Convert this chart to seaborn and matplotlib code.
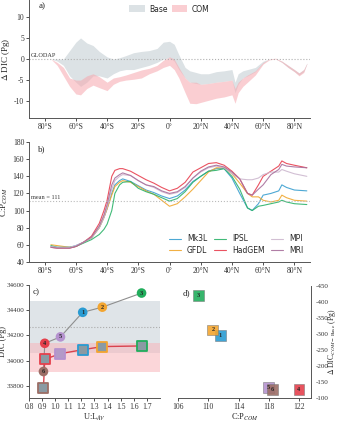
import matplotlib
matplotlib.use('Agg')
import matplotlib.pyplot as plt
import seaborn as sns
import numpy as np
import pandas as pd

# ---- panel a: DIC anomaly envelopes (Pg)
lat_a = [-76, -72, -68, -64, -60, -57, -53, -49, -45, -40, -36, -32, -28, -23, -18,
         -13, -8, -4, 0, 3, 6, 10, 13, 17, 20, 25, 30, 35, 40, 42, 44, 47, 50, 55,
         60, 64, 68, 72, 76, 80, 83, 86, 88]
base_hi = [0, 0, 0, 2, 4, 5, 3.8, 3.2, 1.8, 0.5, 0, 0.3, 0.8, 1.5, 1.8,
           2.0, 2.5, 4, 4.2, 3.5, 1, -2, -2.8, -3.2, -3.5, -3.5, -3, -2.8, -2.5, -5.5, -3.5, -2.8, -2.5, -2,
           -0.5, 0, 0, -0.5, -1.5, -2.5, -3.3, -2.5, -1]
base_lo = [0, -0.5, -1.5, -4, -5.5, -6.5, -5.5, -4, -4, -4.5, -3.5, -2.8, -2.5, -2.5, -2,
           -1.5, -0.8, 0, 0.3, -0.5, -2.5, -4.5, -5.5, -5.8, -6, -5.8, -5.5, -5.3, -5, -8, -6, -4.5, -4, -3,
           -1, 0, 0, -0.8, -2, -3, -3.8, -3, -1.2]
com_hi = [0, -0.8, -2, -4.5, -5, -5, -4, -3.5, -4.2, -5.5, -4.5, -4.2, -3.8, -3.2, -2.6,
          -2.2, -1.5, -0.3, 0.5, 0, -2, -4.5, -5.5, -5.5, -6, -5.8, -5.5, -5.3, -5, -7, -5.5, -4.5, -3.8, -2.8,
          -0.8, 0, 0.2, -0.5, -1.5, -2.5, -3.3, -2.5, -1]
com_lo = [0, -1.5, -4, -6.5, -8.3, -8.5, -7, -6.2, -6.8, -7.5, -6, -5.3, -5, -4.8, -4.5,
          -3.5, -2.8, -2, -1.5, -2.5, -4.5, -8, -10.5, -10.6, -10.3, -9.8, -9.3, -9, -8.5, -10.5, -8, -6.5, -5.5, -3.8,
          -1.2, -0.2, 0, -0.8, -2, -3, -4, -3.2, -1.2]

# ---- panel b: C:P of COM per model
lat_b = [-76, -72, -68, -64, -60, -55, -50, -45, -42, -40, -37, -35, -32, -30, -25, -20,
         -15, -10, -5, 0, 5, 10, 15, 20, 25, 30, 35, 40, 45, 50, 53, 57, 60, 65, 70, 72,
         75, 80, 88]
cp_models = {
    'Mk3L':   [58, 57, 57, 57, 59, 63, 68, 80, 92, 102, 120, 130, 135, 137, 134, 129,
               124, 121, 117, 114, 117, 124, 134, 140, 146, 149, 149, 138, 120, 103, 100, 108, 118, 120, 123, 130,
               127, 124, 123],
    'GFDL':   [60, 59, 58, 57, 58, 63, 68, 80, 92, 102, 118, 128, 133, 135, 133, 128,
               123, 119, 112, 105, 108, 116, 125, 135, 145, 150, 150, 143, 132, 120, 116, 116, 112, 110, 112, 118,
               115, 112, 111],
    'IPSL':   [59, 57, 57, 57, 58, 62, 66, 72, 78, 84, 100, 120, 130, 133, 134, 126,
               122, 119, 115, 111, 114, 122, 133, 140, 146, 147, 149, 140, 125, 103, 100, 105, 106, 108, 110, 112,
               110, 108, 107],
    'HadGEM': [57, 56, 56, 56, 58, 63, 70, 85, 100, 112, 140, 147, 149, 149, 146, 141,
               136, 132, 127, 123, 126, 133, 145, 150, 155, 156, 153, 146, 137, 120, 118, 130, 140, 146, 152, 158,
               155, 153, 150],
    'MPI':    [58, 57, 57, 57, 59, 63, 68, 80, 92, 104, 125, 135, 140, 142, 141, 135,
               130, 127, 122, 119, 121, 127, 138, 145, 150, 152, 150, 143, 137, 136, 136, 138, 142, 145, 145, 148,
               146, 143, 140],
    'MRI':    [57, 56, 56, 56, 58, 63, 69, 82, 95, 107, 130, 138, 142, 144, 141, 135,
               130, 128, 123, 120, 122, 128, 138, 146, 151, 153, 151, 145, 137, 120, 118, 125, 130, 142, 148, 154,
               152, 151, 150],
}
cp_mean = 111

# ---- panels c, d: per-model totals
model_ids = ['1', '2', '3', '4', '5', '6']
ul_av = [1.21, 1.36, 1.66, 0.92, 1.04, 0.91]
dic_base = [34384, 34425, 34537, 34138, 34189, 33914]
dic_com = [34087, 34112, 34117, 34011, 34056, 33787]
cp_com = [111.6, 110.6, 108.7, 122.0, 118.0, 118.5]
base_band = (34060, 34470)
com_band = (33914, 34137)

line_colors = ['#3a9fd0', '#f0a830', '#2db36a', '#e84050', '#cdb8cf', '#a8709c']
id_colors = ['#2a9bd2', '#f3a530', '#21ad5c', '#e5404c', '#b592cf', '#9c6e66']

sns.set_style('ticks')
plt.rcParams['font.family'] = ['Liberation Serif']
plt.rcParams['mathtext.fontset'] = 'stix'
plt.rcParams['axes.unicode_minus'] = False
plt.rcParams['font.size'] = 5.5
plt.rcParams['axes.edgecolor'] = '#555555'
plt.rcParams['axes.linewidth'] = 0.7
plt.rcParams['xtick.major.size'] = 2
plt.rcParams['ytick.major.size'] = 2
plt.rcParams['xtick.major.width'] = 0.6
plt.rcParams['ytick.major.width'] = 0.6
plt.rcParams['xtick.major.pad'] = 1.5
plt.rcParams['ytick.major.pad'] = 1.5
plt.rcParams['xtick.labelsize'] = 5.5
plt.rcParams['ytick.labelsize'] = 5.5
plt.rcParams['xtick.color'] = '#333333'
plt.rcParams['ytick.color'] = '#333333'

fig = plt.figure(figsize=(3.38, 4.23), dpi=100)
ax_a = fig.add_axes([0.086, 0.721, 0.831, 0.279])
ax_b = fig.add_axes([0.086, 0.381, 0.831, 0.283])
ax_c = fig.add_axes([0.086, 0.058, 0.387, 0.268])
ax_d = fig.add_axes([0.527, 0.058, 0.393, 0.266])

lat_ticks = np.arange(-80, 81, 20)
lat_labels = [f'{abs(v)}°S' if v < 0 else (f'{v}°N' if v > 0 else '0°') for v in lat_ticks]
sans = {'family': 'DejaVu Sans', 'size': 5.5}

# a)
ax_a.fill_between(lat_a, base_lo, base_hi, color='#dce2e5', lw=0, label='Base')
ax_a.fill_between(lat_a, com_lo, com_hi, color='#f6a7ae', alpha=0.55, lw=0, label='COM')
ax_a.axhline(0, color='#b0b0b0', ls=':', lw=0.8)
ax_a.text(-89, 0.3, 'GLODAP', fontsize=4.5, color='#333333', va='bottom')
ax_a.set_xlim(-90, 90)
ax_a.set_ylim(-14, 14)
ax_a.set_yticks([-10, -5, 0, 5, 10])
ax_a.set_xticks(lat_ticks)
ax_a.set_xticklabels(lat_labels)
ax_a.set_ylabel(r'$\Delta$ DIC (Pg)', fontsize=6.5)
ax_a.yaxis.set_label_coords(-0.06, 0.5)
ax_a.legend(loc='upper center', ncol=2, frameon=False, prop=sans,
            handlelength=2.0, handleheight=1.0, columnspacing=0.6, handletextpad=0.6,
            bbox_to_anchor=(0.5, 1.02))
ax_a.text(-84, 12.0, 'a)', fontsize=6.5)
sns.despine(ax=ax_a)

# b)
df_b = pd.DataFrame([{'lat': la, 'cp': v, 'model': m}
                     for m, vals in cp_models.items() for la, v in zip(lat_b, vals)])
sns.lineplot(data=df_b, x='lat', y='cp', hue='model', palette=line_colors, lw=0.8,
             alpha=0.9, ax=ax_b)
ax_b.axhline(cp_mean, color='#bbbbbb', ls=':', lw=0.8)
ax_b.text(-89, cp_mean + 1, f'mean = {cp_mean}', fontsize=4.5, color='#333333', va='bottom')
ax_b.set_xlim(-90, 90)
ax_b.set_ylim(40, 180)
ax_b.set_yticks(np.arange(40, 181, 20))
ax_b.set_xticks(lat_ticks)
ax_b.set_xticklabels(lat_labels)
ax_b.set_xlabel('')
ax_b.set_ylabel(r'C:P$_{COM}$', fontsize=6.5)
ax_b.yaxis.set_label_coords(-0.068, 0.5)
h, l = ax_b.get_legend_handles_labels()
ax_b.legend(h, l, loc='lower right', ncol=3, frameon=False, prop=sans,
            handlelength=1.5, columnspacing=0.9, handletextpad=0.8, labelspacing=0.35,
            bbox_to_anchor=(1.0, 0.0))
ax_b.text(-84, 169, 'b)', fontsize=6.5)
sns.despine(ax=ax_b)

# c)
ax_c.axhspan(*base_band, color='#dfe4e8', lw=0, zorder=0)
ax_c.axhspan(*com_band, color='#f8b5bb', alpha=0.55, lw=0, zorder=0)
ax_c.axhline(np.mean(base_band), color='#aaaaaa', ls=':', lw=0.8, zorder=1)
order = np.argsort(ul_av)
df_c = pd.DataFrame({'ul': ul_av, 'base': dic_base, 'com': dic_com, 'id': model_ids})
df_s = df_c.iloc[order]
ax_c.plot(df_s['ul'], df_s['base'], color='#8e8e8e', lw=0.8, zorder=2)
ax_c.plot(df_s['ul'], df_s['com'], color='#d9424e', lw=1.0, zorder=2)
sns.scatterplot(data=df_c, x='ul', y='base', hue='id', palette=id_colors, s=48,
                marker='o', edgecolor='none', legend=False, ax=ax_c, zorder=3)
sq_face = ['#8a9aa3'] * 6
sq_face[4] = '#b39ac8'
for x, y, fc, ec in zip(ul_av, dic_com, sq_face, id_colors):
    ax_c.scatter([x], [y], marker='s', s=48, facecolor=fc, edgecolor=ec, lw=1.3, zorder=3)
for x, y, t in zip(ul_av, dic_base, model_ids):
    ax_c.text(x, y, t, fontsize=4.5, fontweight='bold', ha='center', va='center', zorder=4)
ax_c.set_xlim(0.8, 1.8)
ax_c.set_ylim(33700, 34600)
ax_c.set_xticks(np.arange(0.8, 1.71, 0.1))
ax_c.set_xticklabels([f'{v:.1f}' for v in np.arange(0.8, 1.71, 0.1)])
ax_c.set_yticks([33800, 34000, 34200, 34400, 34600])
ax_c.tick_params(axis='y', labelsize=5)
ax_c.set_xlabel(r'U:L$_{AV}$', fontsize=6, labelpad=0.5)
ax_c.set_ylabel('DIC (Pg)', fontsize=6)
ax_c.yaxis.set_label_coords(-0.168, 0.5)
ax_c.text(0.83, 34530, 'c)', fontsize=6.5)
sns.despine(ax=ax_c)

# d)
delta = [c - b for c, b in zip(dic_com, dic_base)]
df_d = pd.DataFrame({'cp': cp_com, 'delta': delta, 'id': model_ids})
sns.scatterplot(data=df_d, x='cp', y='delta', hue='id', palette=id_colors, s=60,
                marker='s', alpha=0.9, edgecolor='#777777', linewidth=0.4,
                legend=False, ax=ax_d)
for x, y, t in zip(cp_com, delta, model_ids):
    ax_d.text(x, y, t, fontsize=4.5, fontweight='bold', ha='center', va='center')
ax_d.set_xlim(106, 123.6)
ax_d.set_ylim(-100, -450)
ax_d.set_xticks([106, 110, 114, 118, 122])
ax_d.set_yticks(np.arange(-450, -99, 50))
ax_d.tick_params(axis='y', labelsize=5)
ax_d.yaxis.tick_right()
ax_d.yaxis.set_label_position('right')
ax_d.set_xlabel(r'C:P$_{COM}$', fontsize=6, labelpad=0.5)
ax_d.set_ylabel(r'$\Delta$ DIC$_{COM\,-\,\mathrm{Base}}$ (Pg)', fontsize=5.5)
ax_d.yaxis.set_label_coords(1.115, 0.5)
ax_d.text(106.6, -422, 'd)', fontsize=6.5)
sns.despine(ax=ax_d, left=True, right=False)

fig.savefig('out.png', dpi=100)
